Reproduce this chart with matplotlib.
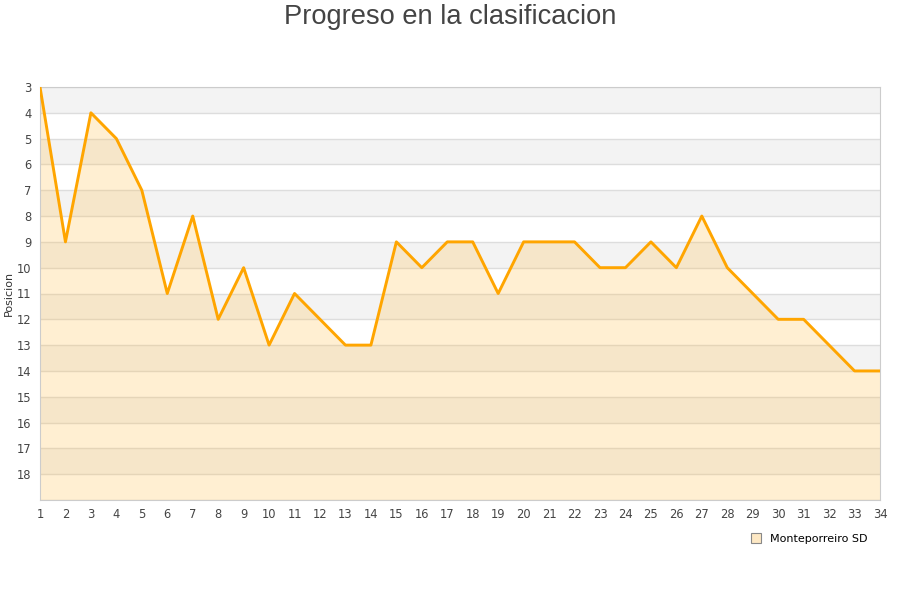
import matplotlib.pyplot as plt
from matplotlib.lines import Line2D

# jornadas y posiciones
jornadas = list(range(1, 35))
posiciones = [3, 9, 4, 5, 7, 11, 8, 12, 10, 13, 11, 12, 13, 13, 9, 10, 9, 9, 11, 9,
              9, 9, 10, 10, 9, 10, 8, 10, 11, 12, 12, 13, 14, 14]
equipo = "Monteporreiro SD"
y_ticks = list(range(3, 19))

fig = plt.figure(figsize=(9, 6), dpi=100)
ax = fig.add_axes([40 / 900, 100 / 600, 840 / 900, 413 / 600])

# bandas alternas grises / blancas
for y in range(3, 19, 2):
    ax.axhspan(y, y + 1, color="#f3f3f3", zorder=0, lw=0)
for y in range(3, 20):
    ax.axhline(y, color="#dddddd", lw=1, zorder=1)

ax.fill_between(jornadas, posiciones, 19, color="#ffc04d", alpha=0.25, lw=0, zorder=2)
ax.plot(jornadas, posiciones, color="#ffa500", lw=2.1, zorder=3)

ax.set_xlim(1, 34)
ax.set_ylim(19, 3)
ax.set_xticks(jornadas)
ax.set_yticks(y_ticks)
ax.tick_params(length=0, labelsize=8.3, colors="#444444", pad=6)
for s in ax.spines.values():
    s.set_color("#cccccc")
ax.set_ylabel("Posicion", fontsize=8, color="#333333", labelpad=2)

fig.text(0.5, 0.993, "Progreso en la clasificacion", ha="center", va="top",
         fontsize=19.6, color="#444444", family="Liberation Sans")

handle = Line2D([], [], marker="s", ls="", markersize=7, markerfacecolor="#fde8c4",
                markeredgecolor="#888888", markeredgewidth=0.8)
fig.legend([handle], [equipo], loc="center right", bbox_to_anchor=(0.975, 0.102),
           frameon=False, fontsize=8, handletextpad=0.3)

fig.savefig("out.png")
